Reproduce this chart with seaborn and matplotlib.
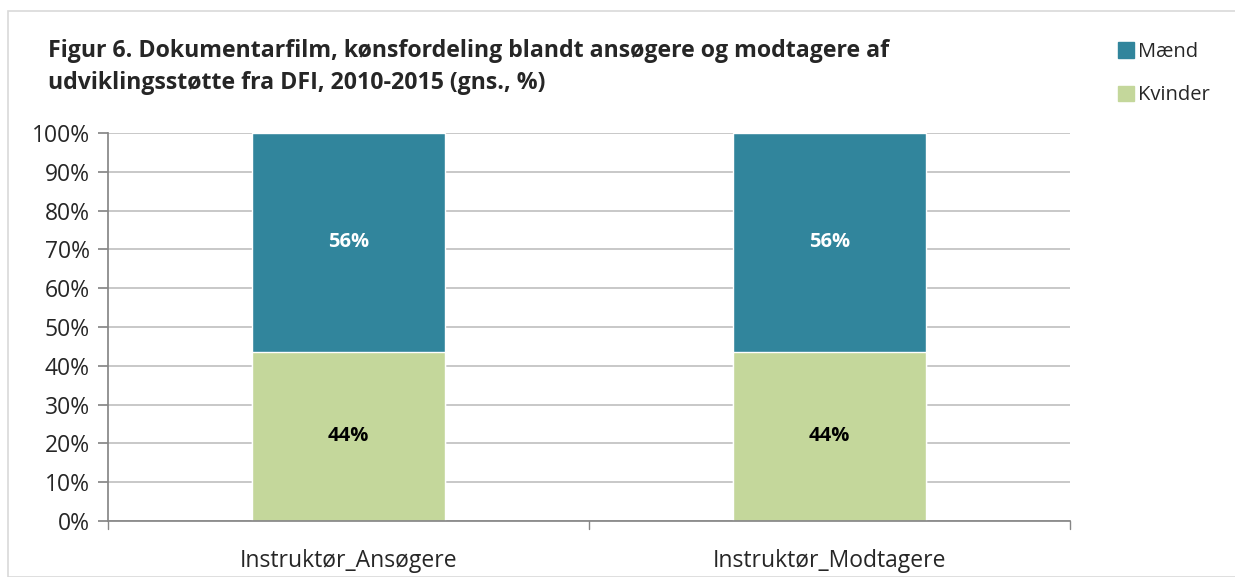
import matplotlib
matplotlib.use("Agg")
import matplotlib.pyplot as plt
import matplotlib.patches as mpatches
import numpy as np
import pandas as pd
import seaborn as sns

# data
categories = ["Instruktør_Ansøgere", "Instruktør_Modtagere"]
kvinder = [43.6, 43.6]
maend = [56.4, 56.4]

TEAL = "#31859C"
GREEN = "#C4D79B"

sns.set_theme(style="white")
plt.rcParams["font.family"] = ["Open Sans", "DejaVu Sans"]

df = pd.DataFrame({"kategori": categories, "Kvinder": kvinder, "Mænd": maend})
df["total"] = df["Kvinder"] + df["Mænd"]

fig = plt.figure(figsize=(12.35, 5.77), dpi=100)
ax = fig.add_axes([108 / 1235, 1 - 521 / 577, (1070 - 108) / 1235, (521 - 133) / 577])

# stacked: full bar in Mænd colour, then Kvinder drawn over the bottom part
sns.barplot(data=df, x="kategori", y="total", color=TEAL, saturation=1, width=0.4, ax=ax)
sns.barplot(data=df, x="kategori", y="Kvinder", color=GREEN, saturation=1, width=0.4, ax=ax)

for i, (k, m) in enumerate(zip(kvinder, maend)):
    ax.text(i, k / 2, f"{k:.0f}%", ha="center", va="center", fontsize=14.5, fontweight="bold", color="black")
    ax.text(i, k + m / 2, f"{m:.0f}%", ha="center", va="center", fontsize=14.5, fontweight="bold", color="white")

ax.set_ylim(0, 100)
ax.set_xlim(-0.5, 1.5)
ax.set_yticks(np.arange(0, 101, 10))
ax.set_yticklabels([f"{v}%" for v in range(0, 101, 10)], fontsize=16.5)
ax.set_xticks([0, 1])
ax.set_xticklabels(categories, fontsize=16.5)
ax.set_xlabel("")
ax.set_ylabel("")
ax.yaxis.grid(True, color="#BFBFBF", linewidth=1.2)
ax.set_axisbelow(True)
for s in ["top", "right"]:
    ax.spines[s].set_visible(False)
ax.spines["left"].set_color("#868686")
ax.spines["bottom"].set_color("#868686")
ax.tick_params(axis="y", left=True, length=7, color="#868686", pad=6)
ax.tick_params(axis="x", bottom=False, pad=14)
# category boundary ticks on the x axis
for xb in [-0.5, 0.5, 1.5]:
    ax.plot([xb, xb], [0, -2], color="#868686", lw=1, clip_on=False)

fig.text(48 / 1235, 1 - 67 / 577,
         "Figur 6. Dokumentarfilm, kønsfordeling blandt ansøgere og modtagere af\n"
         "udviklingsstøtte fra DFI, 2010-2015 (gns., %)",
         ha="left", va="center", fontsize=16.7, fontweight="bold", linespacing=1.45)

handles = [mpatches.Patch(color=TEAL, label="Mænd"), mpatches.Patch(color=GREEN, label="Kvinder")]
fig.legend(handles=handles, loc="upper left", bbox_to_anchor=(1100 / 1235, 1 - 24 / 577),
           frameon=False, fontsize=14.5, handlelength=0.8, handleheight=0.8,
           handletextpad=0.2, labelspacing=1.15)

fig.patches.append(mpatches.Rectangle((8 / 1235, 0), 1.0, 1 - 11 / 577, transform=fig.transFigure,
                                      fill=False, edgecolor="#D9D9D9", linewidth=1.2))

fig.savefig("out.png", dpi=100)
